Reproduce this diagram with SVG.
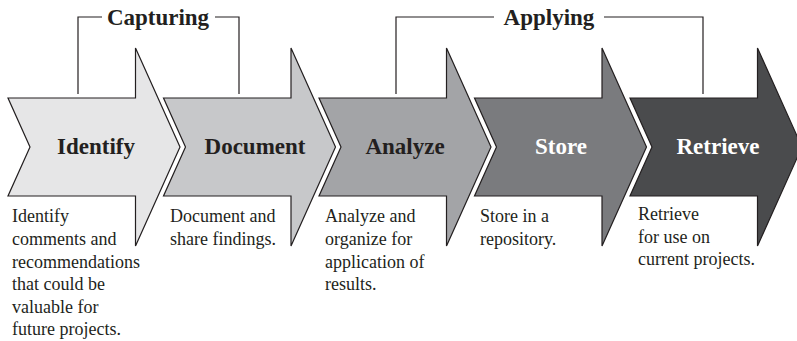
<svg xmlns="http://www.w3.org/2000/svg" width="797" height="341" viewBox="0 0 797 341">
<style>
.arrow{stroke:#231f20;stroke-width:1.2;stroke-linejoin:miter}
.lbl{font-weight:bold;font-size:23px;text-anchor:middle}
.dark{fill:#231f20}
.light{fill:#ffffff}
.desc{font-size:18px;fill:#231f20}
.phase{font-weight:bold;font-size:23px;fill:#231f20;text-anchor:middle}
.br{fill:none;stroke:#231f20;stroke-width:1.2}
</style>
<defs>
<path id="chev" d="M0,98 H127.5 V48 L172,147 L127.5,246 V196 H0 L22,147 Z"/>
</defs>
<rect width="797" height="341" fill="#ffffff"/>
<g font-family="Liberation Serif, serif">
<g id="connectors">
<path class="br" d="M78,94 V17 H102 M215,17 H239 V94"/>
<path class="br" d="M396,94 V17 H494 M604,17 H703 V94"/>
<text class="phase" x="158" y="25">Capturing</text>
<text class="phase" x="549" y="25">Applying</text>
</g>
<g id="identify">
<use href="#chev" x="8" class="arrow" fill="#e6e6e7"/>
<text class="lbl dark" x="96" y="154">Identify</text>
<text class="desc"><tspan x="12" y="222">Identify</tspan><tspan x="12" y="245">comments and</tspan><tspan x="12" y="267.5">recommendations</tspan><tspan x="12" y="290">that could be</tspan><tspan x="12" y="312.5">valuable for</tspan><tspan x="12" y="335">future projects.</tspan></text>
</g>
<g id="document">
<use href="#chev" x="163.5" class="arrow" fill="#c7c8ca"/>
<text class="lbl dark" x="255" y="154">Document</text>
<text class="desc"><tspan x="170" y="222">Document and</tspan><tspan x="170" y="245">share findings.</tspan></text>
</g>
<g id="analyze">
<use href="#chev" x="319" class="arrow" fill="#a3a4a7"/>
<text class="lbl dark" x="405" y="154">Analyze</text>
<text class="desc"><tspan x="325" y="222">Analyze and</tspan><tspan x="325" y="245">organize for</tspan><tspan x="325" y="267.5">application of</tspan><tspan x="325" y="290">results.</tspan></text>
</g>
<g id="store">
<use href="#chev" x="474.5" class="arrow" fill="#7a7b7e"/>
<text class="lbl light" x="561" y="154">Store</text>
<text class="desc"><tspan x="480" y="222">Store in a</tspan><tspan x="480" y="245">repository.</tspan></text>
</g>
<g id="retrieve">
<use href="#chev" x="630" class="arrow" fill="#4a4b4d"/>
<text class="lbl light" x="718" y="154">Retrieve</text>
<text class="desc"><tspan x="638" y="220">Retrieve</tspan><tspan x="638" y="242.5">for use on</tspan><tspan x="638" y="265">current projects.</tspan></text>
</g>
</g>
</svg>
